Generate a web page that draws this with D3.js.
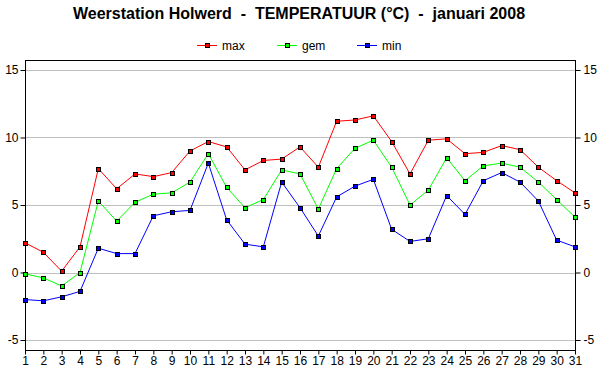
<!DOCTYPE html>
<html><head><meta charset="utf-8">
<script src="https://cdn.jsdelivr.net/npm/d3@7"></script>
<style>body{margin:0;background:#fff;}svg{display:block;font-family:"Liberation Sans",Arial,sans-serif;}</style>
</head><body>
<svg id="c" width="600" height="390"></svg>
<script>
const days = d3.range(1, 32);
const maxT = [2.2,1.5,0.1,1.9,7.7,6.2,7.3,7.1,7.4,9.0,9.7,9.3,7.6,8.3,8.4,9.3,7.8,11.2,11.3,11.6,9.7,7.3,9.8,9.9,8.8,8.9,9.4,9.1,7.8,6.8,5.9];
const gemT = [-0.1,-0.4,-1.0,0.0,5.3,3.8,5.2,5.8,5.9,6.7,8.8,6.3,4.8,5.4,7.6,7.3,4.7,7.7,9.2,9.8,7.8,5.0,6.1,8.5,6.8,7.9,8.1,7.8,6.7,5.4,4.1];
const minT = [-2.0,-2.1,-1.8,-1.4,1.8,1.4,1.4,4.2,4.5,4.6,8.1,3.9,2.1,1.9,6.7,4.8,2.7,5.6,6.4,6.9,3.2,2.3,2.5,5.7,4.3,6.8,7.4,6.7,5.3,2.4,1.9];
const seriesNames = ["max","gem","min"];
const seriesColors = ["#ff0000","#00ff00","#0000ff"];
const yTicks = [-5,0,5,10,15];
const title = "Weerstation Holwerd  -  TEMPERATUUR (°C)  -  januari 2008";

const svg = d3.select("#c");
const L = 25, R = 575, T = 60, B = 350;
const x = d3.scaleLinear().domain([1,31]).range([L,R]);
const y = d3.scaleLinear().domain([-5.74,15.74]).range([B,T]);

svg.append("text").attr("x",299).attr("y",19).attr("text-anchor","middle")
  .attr("font-size",16).attr("font-weight","bold").style("white-space","pre").text(title);

svg.append("g").selectAll("line").data(yTicks).join("line")
  .attr("x1",L).attr("x2",R).attr("y1",d=>Math.round(y(d))+0.5).attr("y2",d=>Math.round(y(d))+0.5)
  .attr("stroke","#c0c0c0").attr("stroke-width",1);

const fmt = d => d < 0 ? "-" + Math.abs(d) : String(d);
const yl = svg.append("g").attr("transform",`translate(${L+0.5},0)`)
  .call(d3.axisLeft(y).tickValues(yTicks).tickSize(5).tickPadding(2).tickFormat(fmt));
const yr = svg.append("g").attr("transform",`translate(${R+0.5},0)`)
  .call(d3.axisRight(y).tickValues(yTicks).tickSize(5).tickPadding(3).tickFormat(fmt));
const xa = svg.append("g").attr("transform",`translate(0,${B+0.5})`)
  .call(d3.axisBottom(x).tickValues(days).tickSize(4).tickPadding(2).tickFormat(d3.format("d")));
[yl,yr,xa].forEach(g=>{
  g.select(".domain").remove();
  g.selectAll("text").attr("font-size",12).attr("fill","#000").attr("font-family","Liberation Sans, Arial, sans-serif");
  g.selectAll("line").attr("stroke","#000");
});
svg.append("rect").attr("x",L+0.5).attr("y",T+0.5).attr("width",R-L).attr("height",B-T)
  .attr("fill","none").attr("stroke","#000").attr("stroke-width",1);

const allData = [maxT, gemT, minT];
const line = d3.line().x((d,i)=>x(days[i])).y(d=>y(d));
allData.forEach((vals,k)=>{
  svg.append("path").datum(vals).attr("d",line).attr("fill","none")
    .attr("stroke",seriesColors[k]).attr("stroke-width",1);
});
allData.forEach((vals,k)=>{
  svg.append("g").selectAll("rect").data(vals).join("rect")
    .attr("x",(d,i)=>Math.round(x(days[i]))-1.5).attr("y",d=>Math.round(y(d))-1.5)
    .attr("width",4).attr("height",4).attr("fill",seriesColors[k]).attr("stroke","#000").attr("stroke-width",1);
});

const lg = svg.append("g");
const legX = [197,277,357];
seriesNames.forEach((n,k)=>{
  const g = lg.append("g").attr("transform",`translate(${legX[k]},45)`);
  g.append("line").attr("x1",0).attr("x2",20).attr("y1",0.5).attr("y2",0.5).attr("stroke",seriesColors[k]);
  g.append("rect").attr("x",8.5).attr("y",-1.5).attr("width",4).attr("height",4).attr("fill",seriesColors[k]).attr("stroke","#000");
  g.append("text").attr("x",25).attr("y",5).attr("font-size",12).text(n);
});
</script>
</body></html>
